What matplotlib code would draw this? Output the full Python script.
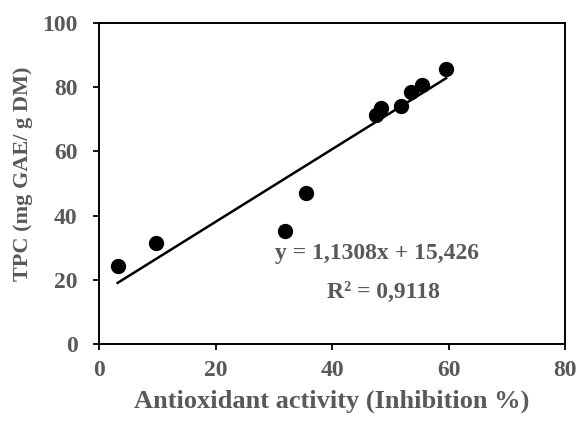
import numpy as np
import matplotlib.pyplot as plt

# antioxidant activity (%) vs TPC (mg GAE / g DM)
inhibition = [3.2, 9.8, 32.0, 35.5, 47.6, 48.4, 51.8, 53.5, 55.4, 59.6]
tpc = [24.3, 31.4, 35.2, 46.9, 71.3, 73.4, 74.1, 78.4, 80.7, 85.6]
slope = 1.1308
intercept = 15.426
r2_text = "R² = 0,9118"
eq_text = "y = 1,1308x + 15,426"

gray = "#595959"
plt.rcParams["font.family"] = ["Liberation Serif", "DejaVu Serif"]
plt.rcParams["font.weight"] = "bold"


def main():
    fig = plt.figure(figsize=(5.79, 4.24), dpi=100)
    ax = fig.add_axes([99 / 579, 80 / 424, 466 / 579, 321 / 424])

    ax.scatter(inhibition, tpc, s=100, color="black", zorder=3)
    xs = np.array([min(inhibition), max(inhibition)])
    ax.plot(xs, slope * xs + intercept, color="black", lw=1.8)

    ax.set_xlim(0, 80)
    ax.set_ylim(0, 100)
    ax.set_xticks(range(0, 81, 20))
    ax.set_yticks(range(0, 101, 20))
    ax.tick_params(direction="out", length=4.5, width=1.3, labelsize=17,
                   labelcolor=gray)
    ax.tick_params(axis="y", pad=11)
    ax.tick_params(axis="x", pad=7)
    for s in ax.spines.values():
        s.set_linewidth(1.4)

    ax.set_xlabel("Antioxidant activity (Inhibition %)", fontsize=19,
                  color=gray, fontweight="bold", labelpad=6)
    ax.set_ylabel("TPC (mg GAE/ g DM)", fontsize=16, color=gray,
                  fontweight="bold")
    ax.yaxis.set_label_coords(-0.142, 0.53)

    ax.text(47.7, 28.3, eq_text, fontsize=17, color=gray,
            fontweight="bold", ha="center", va="center")
    ax.text(48.9, 16.2, r2_text, fontsize=17, color=gray,
            fontweight="bold", ha="center", va="center")

    fig.savefig("out.png", dpi=100)


if __name__ == "__main__":
    main()
